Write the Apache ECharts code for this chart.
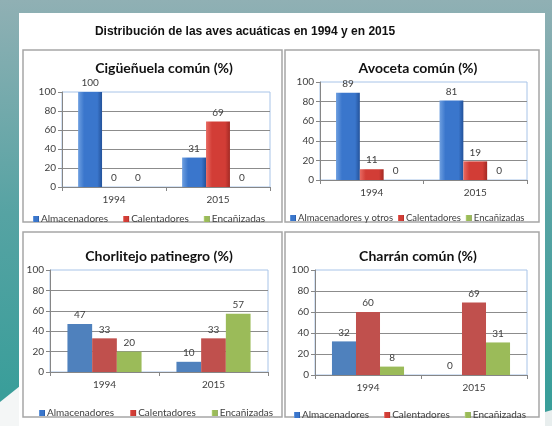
<!DOCTYPE html>
<html>
<head>
<meta charset="utf-8">
<script src="https://cdn.jsdelivr.net/npm/echarts@6/dist/echarts.min.js"></script>
<style>
  html, body { margin: 0; padding: 0; }
  #main { width: 552px; height: 426px; }
</style>
</head>
<body>
<div id="main"></div>
<script>
// data
var categories = ['1994', '2015'];
var yTicks = [0, 20, 40, 60, 80, 100];
var namesA = ['Almacenadores', 'Calentadores', 'Encañizadas'];
var namesB = ['Almacenadores y otros', 'Calentadores', 'Encañizadas'];

var ciguenuelaAlm = [100, 31];
var ciguenuelaCal = [0, 69];
var ciguenuelaEnc = [0, 0];

var avocetaAlm = [89, 81];
var avocetaCal = [11, 19];
var avocetaEnc = [0, 0];

var chorlitejoAlm = [47, 10];
var chorlitejoCal = [33, 33];
var chorlitejoEnc = [20, 57];

var charranAlm = [32, 0];
var charranCal = [60, 69];
var charranEnc = [8, 31];

var titles = ['Cigüeñuela común (%)', 'Avoceta común (%)', 'Chorlitejo patinegro (%)', 'Charrán común (%)'];

var font = 'Lato, "Noto Sans", sans-serif';
var txt = '#404040';

function grad(light, base, dark) {
  return new echarts.graphic.LinearGradient(0, 0, 1, 0, [
    { offset: 0, color: light },
    { offset: 0.25, color: base },
    { offset: 0.8, color: base },
    { offset: 1, color: dark }
  ]);
}
var blueG = grad('#6e9fe0', '#3a76cc', '#23529a');
var redG = grad('#e86a62', '#d23d36', '#a32a24');
var greenG = grad('#b5d47a', '#9bbb59', '#76933c');
var flat = ['#4f81bd', '#c0504d', '#9bbb59'];

var grids = [
  { left: 62, top: 92, width: 208, height: 95 },
  { left: 320, top: 82, width: 207, height: 98 },
  { left: 50, top: 270, width: 218, height: 102 },
  { left: 315, top: 270, width: 212, height: 105 }
];
var titlePos = [[159, 56], [413, 56], [154, 244], [413, 244]];
var legendPos = [
  { left: 28, top: 209, gap: 15, size: 10 },
  { left: 285, top: 208, gap: 5, size: 9.5 },
  { left: 34, top: 403, gap: 16, size: 10 },
  { left: 289, top: 405, gap: 15, size: 10 }
];
var panels = [[23, 50, 259, 172], [285, 50, 254, 172], [23, 232, 259, 185], [285, 232, 254, 185]];

var chartData = [
  [ciguenuelaAlm, ciguenuelaCal, ciguenuelaEnc],
  [avocetaAlm, avocetaCal, avocetaEnc],
  [chorlitejoAlm, chorlitejoCal, chorlitejoEnc],
  [charranAlm, charranCal, charranEnc]
];

var xAxis = [], yAxis = [], series = [], legend = [], title = [];
for (var i = 0; i < 4; i++) {
  grids[i].show = true;
  grids[i].borderColor = '#a8c4e8';
  grids[i].borderWidth = 1;
  grids[i].backgroundColor = '#fff';
  xAxis.push({
    type: 'category', gridIndex: i, data: categories,
    axisLine: { lineStyle: { color: '#868686' } },
    axisTick: { show: true, length: 4, lineStyle: { color: '#868686' } },
    axisLabel: { color: txt, fontSize: 10, fontFamily: font, margin: 8 }
  });
  yAxis.push({
    type: 'value', gridIndex: i, min: yTicks[0], max: yTicks[yTicks.length - 1], interval: 20,
    axisLine: { show: true, lineStyle: { color: '#868686' } },
    axisTick: { show: true, length: 4, lineStyle: { color: '#868686' } },
    axisLabel: { color: txt, fontSize: 10, fontFamily: font, margin: 6 },
    splitLine: { show: true, showMaxLine: false, lineStyle: { color: '#8c8c8c' } }
  });
  var names = i === 1 ? namesB : namesA;
  for (var s = 0; s < 3; s++) {
    var color = i < 2 ? [blueG, redG, greenG][s] : flat[s];
    series.push({
      name: names[s], type: 'bar', xAxisIndex: i, yAxisIndex: i,
      data: chartData[i][s],
      barGap: 0, barCategoryGap: i < 2 ? '31%' : '32%',
      itemStyle: { color: color },
      label: { show: true, position: 'top', distance: 4, color: txt, fontSize: 10, fontFamily: font },
      silent: true
    });
  }
  legend.push({
    data: names, left: legendPos[i].left, top: legendPos[i].top, itemGap: legendPos[i].gap,
    itemWidth: 6, itemHeight: 6, icon: 'rect',
    textStyle: { color: txt, fontSize: legendPos[i].size, fontFamily: font, padding: [0, 0, 0, -3] },
    selectedMode: false
  });
  title.push({
    text: titles[i], left: titlePos[i][0], top: titlePos[i][1], textAlign: 'center',
    textStyle: { fontSize: 14, fontWeight: 'bold', fontFamily: font, color: '#111' }
  });
}
title.push({
  text: 'Distribución de las aves acuáticas en 1994 y en 2015', left: 240, top: 21, textAlign: 'center',
  textStyle: { fontSize: 12, fontWeight: 'bold', fontFamily: '"Liberation Sans", Arial, sans-serif', color: '#111' }
});

// slide background, white panel and chart frames
var graphic = [
  { type: 'rect', z: -10, shape: { x: 0, y: 0, width: 552, height: 426 },
    style: { fill: new echarts.graphic.LinearGradient(0, 0, 0, 1, [
      { offset: 0, color: '#90b0b4' }, { offset: 0.5, color: '#56a3a3' }, { offset: 0.92, color: '#3a9e9a' }, { offset: 1, color: '#3a9e9a' }
    ]) } },
  { type: 'polygon', z: -9, shape: { points: [[0, 402], [20, 386], [20, 426], [0, 426]] }, style: { fill: '#f4f6f6' } },
  { type: 'polygon', z: -9, shape: { points: [[545, 412], [552, 410], [552, 426], [545, 426]] }, style: { fill: '#e8eeee' } },
  { type: 'rect', z: -8, shape: { x: 19, y: 13, width: 526, height: 413 }, style: { fill: '#fff' } }
];
for (var p = 0; p < 4; p++) {
  graphic.push({ type: 'rect', z: -7, shape: { x: panels[p][0], y: panels[p][1], width: panels[p][2], height: panels[p][3] },
    style: { fill: '#fff', stroke: '#a6a6a6', lineWidth: 1.5 } });
}

var myChart = echarts.init(document.getElementById('main'));
myChart.setOption({
  animation: false,
  backgroundColor: '#fff',
  graphic: graphic,
  title: title,
  legend: legend,
  grid: grids,
  xAxis: xAxis,
  yAxis: yAxis,
  series: series
});
</script>
</body>
</html>
